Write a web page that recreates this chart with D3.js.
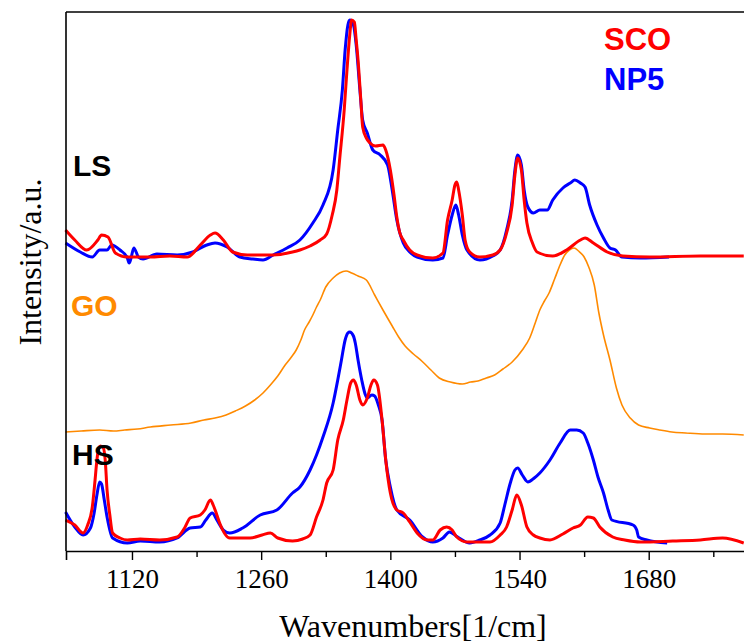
<!DOCTYPE html>
<html>
<head>
<meta charset="utf-8">
<script src="https://d3js.org/d3.v7.min.js"></script>
<style>
  body { margin: 0; background: #fff; }
  .tick text { font-family: "Liberation Serif", "Times New Roman", serif; }
  .lbl { font-family: "Liberation Sans", Arial, sans-serif; font-weight: bold; }
</style>
</head>
<body>
<script>
// spectra: [wavenumber (1/cm), intensity (a.u., offset stacked)]
var lsSCO = [[1048,321],[1058,311],[1071,301],[1083,311],[1087,316],[1094,314],[1102,298],[1115,294],[1140,294],
  [1161,295],[1180,294],[1194,306],[1205,316],[1210,318],[1219,311],[1229,299],[1245,296],[1273,296],[1294,299],
  [1302,301],[1313,305],[1324,311],[1331,317],[1337,336],[1342,361],[1345,391],[1350,441],[1353,481],[1356,516],
  [1358,531],[1361,529],[1363,511],[1365,491],[1368,451],[1370,424],[1374,413],[1378,408],[1384,405],[1392,406],
  [1395,401],[1400,381],[1404,356],[1407,334],[1410,319],[1414,311],[1421,301],[1429,296],[1446,293],[1457,298],
  [1462,331],[1467,351],[1470,366],[1472,369],[1474,361],[1478,336],[1481,311],[1486,299],[1497,294],[1511,296],
  [1519,301],[1526,318],[1532,346],[1535,376],[1538,393],[1542,381],[1545,351],[1548,328],[1554,308],[1559,299],
  [1576,295],[1591,301],[1606,311],[1611,313],[1620,308],[1635,299],[1652,295],[1681,294],[1736,295],[1783,295]];

var lsNP5 = [[1048,308],[1064,299],[1077,294],[1085,301],[1093,301],[1098,306],[1107,301],[1115,293],[1117,288],
  [1119,293],[1122,303],[1127,294],[1132,292],[1147,297],[1169,296],[1186,299],[1201,306],[1210,308],[1223,304],
  [1237,294],[1251,292],[1262,291],[1273,296],[1288,303],[1302,311],[1316,328],[1327,346],[1338,381],[1343,421],
  [1348,461],[1351,501],[1354,526],[1356,531],[1360,526],[1363,506],[1367,461],[1370,431],[1375,418],[1381,401],
  [1389,396],[1397,386],[1402,361],[1407,331],[1414,308],[1421,299],[1429,294],[1446,291],[1457,293],[1462,316],
  [1467,336],[1471,346],[1474,336],[1478,316],[1483,301],[1497,291],[1511,295],[1519,301],[1526,321],[1532,351],
  [1535,381],[1538,396],[1542,386],[1545,361],[1549,344],[1555,338],[1562,341],[1570,341],[1576,351],[1587,363],
  [1595,368],[1600,371],[1606,368],[1611,364],[1616,346],[1624,326],[1631,313],[1638,303],[1644,301],[1651,294],
  [1671,293],[1702,294]];

var goRef = [[1048,119],[1065,120],[1085,121],[1100,120],[1112,121],[1126,122],[1140,124],[1162,126],[1184,128],
  [1198,131],[1210,133],[1222,136],[1232,140],[1243,145],[1253,151],[1262,158],[1270,166],[1278,175],[1286,186],
  [1292,193],[1298,201],[1303,211],[1307,221],[1312,229],[1316,236],[1320,244],[1324,251],[1330,264],[1338,273],
  [1345,278],[1352,280],[1358,278],[1365,275],[1374,271],[1383,256],[1392,241],[1402,225],[1409,214],[1416,205],
  [1425,197],[1434,190],[1444,181],[1453,173],[1465,169],[1478,167],[1487,169],[1495,170],[1504,173],[1513,176],
  [1522,182],[1532,189],[1543,201],[1551,213],[1557,228],[1562,241],[1567,250],[1572,258],[1578,272],[1583,284],
  [1589,296],[1594,301],[1599,303],[1604,300],[1610,294],[1615,284],[1621,266],[1626,238],[1631,216],[1638,191],
  [1645,163],[1651,146],[1660,133],[1669,126],[1681,123],[1692,121],[1705,119],[1720,118],[1741,117],[1760,117],
  [1783,116]];

var hsSCO = [[1048,31],[1058,26],[1067,18],[1072,26],[1077,44],[1080,71],[1082,91],[1084,103],[1086,105],[1089,103],
  [1091,91],[1093,61],[1096,36],[1099,18],[1107,13],[1115,11],[1129,12],[1150,11],[1169,14],[1177,23],[1183,33],
  [1194,36],[1199,41],[1205,51],[1208,46],[1212,36],[1215,28],[1226,13],[1248,13],[1261,16],[1270,18],[1278,13],
  [1294,10],[1305,12],[1313,16],[1320,34],[1327,51],[1331,68],[1338,81],[1343,111],[1349,131],[1353,151],[1357,168],
  [1360,171],[1363,166],[1367,151],[1370,146],[1375,153],[1379,166],[1382,171],[1386,166],[1391,131],[1395,91],
  [1400,58],[1407,41],[1414,38],[1421,29],[1429,18],[1440,11],[1446,11],[1454,21],[1461,24],[1467,21],[1472,14],
  [1483,9],[1508,9],[1519,16],[1526,24],[1532,41],[1537,56],[1542,46],[1548,24],[1555,16],[1562,13],[1573,11],
  [1587,17],[1598,23],[1606,26],[1614,34],[1620,33],[1627,24],[1641,14],[1654,11],[1671,9],[1706,10],[1736,11],
  [1760,13],[1783,8]];

var hsNP5 = [[1048,39],[1058,24],[1067,16],[1075,23],[1079,38],[1082,56],[1085,69],[1087,67],[1090,51],[1093,34],
  [1099,13],[1115,8],[1129,10],[1150,9],[1169,13],[1183,23],[1194,24],[1200,31],[1207,38],[1212,31],[1219,21],
  [1226,18],[1240,23],[1259,36],[1277,41],[1294,58],[1302,64],[1313,81],[1320,96],[1327,114],[1338,148],[1343,171],
  [1347,191],[1351,211],[1354,218],[1356,219],[1360,215],[1362,208],[1365,191],[1369,171],[1373,156],[1375,153],
  [1380,156],[1383,155],[1387,146],[1391,131],[1395,91],[1400,64],[1407,41],[1421,31],[1435,14],[1446,9],[1457,13],
  [1464,19],[1473,14],[1486,8],[1497,11],[1508,16],[1519,28],[1524,46],[1530,68],[1535,81],[1538,83],[1543,76],
  [1549,69],[1556,73],[1562,78],[1573,91],[1584,108],[1595,121],[1602,121],[1609,118],[1614,108],[1620,91],
  [1625,74],[1631,58],[1636,41],[1640,31],[1663,26],[1667,21],[1669,14],[1678,11],[1700,8]];

var majorTicks = [1120, 1260, 1400, 1540, 1680];
var minorTicks = [1190, 1330, 1470, 1610, 1750];

var W = 744, H = 644;
var mLeft = 66, mTop = 12, mBottom = 551;

var svg = d3.select("body").append("svg")
  .attr("width", W)
  .attr("height", H);

var x = d3.scaleLinear().domain([1048.5, 1820]).range([mLeft, 777.9]);
var y = d3.scaleLinear().domain([0, 539]).range([mBottom, mTop]);

var line = d3.line()
  .x(function (d) { return x(d[0]); })
  .y(function (d) { return y(d[1]); })
  .curve(d3.curveMonotoneX);

var plot = svg.append("g");

plot.append("path").datum(goRef)
  .attr("fill", "none").attr("stroke", "#ff8a00").attr("stroke-width", 1.6)
  .attr("d", line);

[[lsNP5, "#0000ff"], [hsNP5, "#0000ff"], [lsSCO, "#ff0000"], [hsSCO, "#ff0000"]].forEach(function (s) {
  plot.append("path").datum(s[0])
    .attr("fill", "none").attr("stroke", s[1]).attr("stroke-width", 3)
    .attr("stroke-linejoin", "round")
    .attr("d", line);
});

// frame: left + top lines, bottom axis
svg.append("line").attr("x1", mLeft).attr("x2", mLeft).attr("y1", mTop).attr("y2", mBottom)
  .attr("stroke", "#000").attr("stroke-width", 1.6);
svg.append("line").attr("x1", mLeft).attr("x2", W).attr("y1", mTop).attr("y2", mTop)
  .attr("stroke", "#000").attr("stroke-width", 1.6);

var xAxis = svg.append("g")
  .attr("transform", "translate(0," + mBottom + ")")
  .call(d3.axisBottom(x).tickValues(majorTicks).tickSize(9).tickPadding(9).tickFormat(d3.format("d")));
xAxis.select(".domain").attr("stroke-width", 1.6);
xAxis.selectAll(".tick line").attr("stroke-width", 1.4);
xAxis.selectAll(".tick text").attr("font-size", 27).attr("fill", "#000");

svg.append("g")
  .attr("transform", "translate(0," + mBottom + ")")
  .call(d3.axisBottom(x).tickValues(minorTicks).tickSize(6).tickFormat(""))
  .call(function (g) { g.select(".domain").remove(); })
  .selectAll(".tick line").attr("stroke-width", 1.4);

svg.append("text")
  .attr("x", 413).attr("y", 637)
  .attr("text-anchor", "middle")
  .attr("font-family", "Liberation Serif, Times New Roman, serif")
  .attr("font-size", 32)
  .text("Wavenumbers[1/cm]");

svg.append("text")
  .attr("transform", "translate(41,262) rotate(-90)")
  .attr("text-anchor", "middle")
  .attr("font-family", "Liberation Serif, Times New Roman, serif")
  .attr("font-size", 32)
  .text("Intensity/a.u.");

var labels = [["SCO", 604, 50, "#ff0000", 31], ["NP5", 604, 90, "#0000ff", 31], ["LS", 73, 176, "#000", 30],
  ["GO", 71, 316, "#ff8a00", 30], ["HS", 72, 465, "#000", 30]];
labels.forEach(function (l) {
  svg.append("text").attr("class", "lbl")
    .attr("x", l[1]).attr("y", l[2])
    .attr("font-size", l[4])
    .attr("fill", l[3])
    .text(l[0]);
});
</script>
</body>
</html>
